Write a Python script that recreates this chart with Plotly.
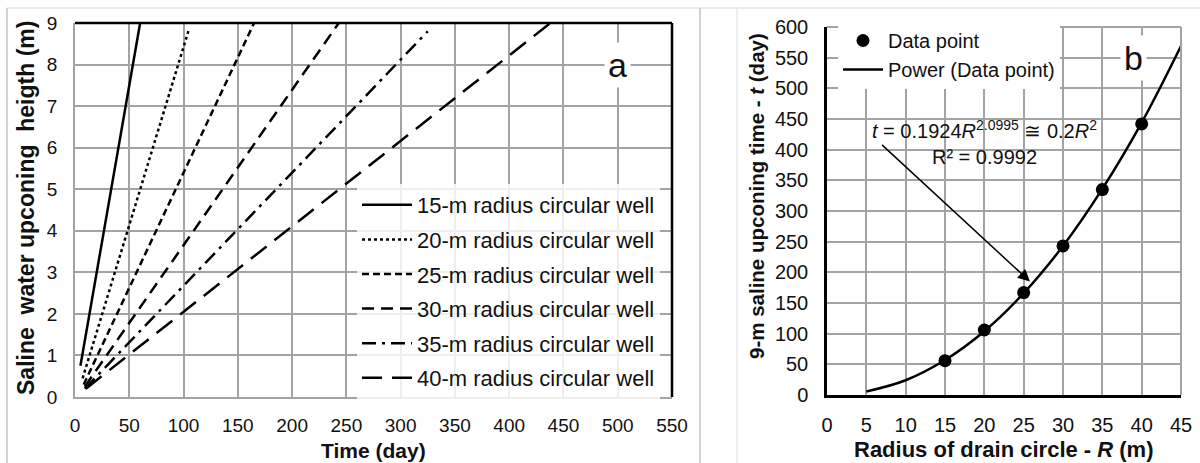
import plotly.graph_objects as go

# ---------------- data: panel a ----------------
well_labels = ["15-m radius circular well", "20-m radius circular well",
               "25-m radius circular well", "30-m radius circular well",
               "35-m radius circular well", "40-m radius circular well"]
t15 = [5, 60];  h15 = [0.75, 9.0]
t20 = [7, 105]; h20 = [0.45, 8.85]
t25 = [8, 165]; h25 = [0.30, 9.0]
t30 = [9, 243]; h30 = [0.25, 9.0]
t35 = [9, 325]; h35 = [0.20, 8.8]
t40 = [10, 438]; h40 = [0.20, 9.0]

# ---------------- data: panel b ----------------
radius_pts = [15, 20, 25, 30, 35, 40]
time_pts = [56, 106, 167, 243, 335, 442]
radius_fit = [5, 10, 15, 20, 25, 30, 35, 40, 45]
time_fit = [5.6, 24, 57, 104, 166, 243, 336, 444, 569]

x_ticks_a = list(range(0, 551, 50))
y_ticks_a = list(range(0, 10))
x_ticks_b = list(range(0, 46, 5))
y_ticks_b = list(range(0, 601, 50))

FONT = "Liberation Sans, Arial, sans-serif"
GRID = "#a3a3a3"
W, H = 1200, 463

def px(xp): return xp / W
def py(yp): return 1 - yp / H

fig = go.Figure()

series = [(t15, h15, "solid"), (t20, h20, "dot"), (t25, h25, "7px,4px"),
          (t30, h30, "12px,7px"), (t35, h35, "14px,6px,3px,6px"),
          (t40, h40, "20px,10px")]
for i, (t, h, dash) in enumerate(series):
    fig.add_trace(go.Scatter(x=t, y=h, mode="lines", name=well_labels[i],
                             line=dict(color="black", width=2.5, dash=dash),
                             xaxis="x", yaxis="y", legend="legend",
                             legendgroup=f"g{i}"))

fig.add_trace(go.Scatter(x=radius_pts, y=time_pts, mode="markers", name="Data point",
                         marker=dict(color="black", size=13),
                         xaxis="x2", yaxis="y2", legend="legend2"))
fig.add_trace(go.Scatter(x=radius_fit, y=time_fit, mode="lines", name="Power (Data point)",
                         line=dict(color="black", width=2.5, shape="spline"),
                         xaxis="x2", yaxis="y2", legend="legend2"))

xa_dom = [px(75), px(672)]
ya_dom = [py(397), py(23)]
xb_dom = [px(827), px(1181)]
yb_dom = [py(395), py(27)]

axis_common = dict(showgrid=True, gridcolor=GRID, gridwidth=1.5, zeroline=False,
                   automargin=False,
                   ticks="", tickfont=dict(family=FONT, size=19, color="#111"))

fig.update_layout(
    template="none",
    width=W, height=H, margin=dict(l=0, r=0, t=0, b=0, pad=0, autoexpand=False),
    paper_bgcolor="white", plot_bgcolor="white",
    font=dict(family=FONT, color="#111"),
    xaxis=dict(domain=xa_dom, range=[0, 550], tickvals=x_ticks_a, anchor="y",
               showline=True, linecolor=GRID, linewidth=1.5, ticklabelstandoff=10,
               **axis_common),
    yaxis=dict(domain=ya_dom, range=[0, 9], tickvals=y_ticks_a, anchor="x",
               showline=True, linecolor=GRID, linewidth=1.5, ticklabelstandoff=12,
               **axis_common),
    xaxis2=dict(domain=xb_dom, range=[0, 45], tickvals=x_ticks_b, anchor="y2",
                showline=True, linecolor="black", linewidth=2.5, ticklabelstandoff=10,
                **{**axis_common, "tickfont": dict(family=FONT, size=20, color="#111")}),
    yaxis2=dict(domain=yb_dom, range=[0, 600], tickvals=y_ticks_b, anchor="x2",
                showline=True, linecolor="black", linewidth=2.5, ticklabelstandoff=12,
                **{**axis_common, "tickfont": dict(family=FONT, size=20, color="#111")}),
    legend=dict(x=px(357), y=py(184), xanchor="left", yanchor="top",
                bgcolor="rgba(255,255,255,0.82)", borderwidth=0,
                font=dict(family=FONT, size=22, color="#111"),
                tracegroupgap=3, itemwidth=50),
    legend2=dict(x=px(838), y=py(21), xanchor="left", yanchor="top",
                 bgcolor="white", borderwidth=0,
                 font=dict(family=FONT, size=20, color="#111"), itemwidth=40),
    showlegend=True,
)

shapes = []
# black top/right border panel a
shapes.append(dict(type="line", xref="paper", yref="paper", x0=xa_dom[0], x1=xa_dom[1],
                   y0=ya_dom[1], y1=ya_dom[1], line=dict(color="black", width=2.5)))
shapes.append(dict(type="line", xref="paper", yref="paper", x0=xa_dom[1], x1=xa_dom[1],
                   y0=ya_dom[0], y1=ya_dom[1], line=dict(color="black", width=2.5)))
# gray top/right border panel b
shapes.append(dict(type="line", xref="paper", yref="paper", x0=xb_dom[0], x1=xb_dom[1],
                   y0=yb_dom[1], y1=yb_dom[1], line=dict(color=GRID, width=2)))
shapes.append(dict(type="line", xref="paper", yref="paper", x0=xb_dom[1], x1=xb_dom[1],
                   y0=yb_dom[0], y1=yb_dom[1], line=dict(color=GRID, width=2)))
# panel frames
shapes.append(dict(type="line", xref="paper", yref="paper", x0=px(7), x1=px(1200),
                   y0=py(8), y1=py(8), line=dict(color="#e4e4e4", width=1.5)))
shapes.append(dict(type="line", xref="paper", yref="paper", x0=px(7), x1=px(7),
                   y0=py(8), y1=0, line=dict(color="#c4c4c4", width=1.5)))
shapes.append(dict(type="line", xref="paper", yref="paper", x0=px(700), x1=px(700),
                   y0=py(8), y1=0, line=dict(color="#c4c4c4", width=1.5)))
shapes.append(dict(type="line", xref="paper", yref="paper", x0=px(737), x1=px(737),
                   y0=py(8), y1=0, line=dict(color="#e8e8e8", width=1.5)))
fig.update_layout(shapes=shapes)

annotations = [
    dict(text="<b>Saline\u00a0 water upconing\u00a0 heigth (m)</b>", xref="paper", yref="paper",
         x=px(26), y=py(208), xanchor="center", yanchor="middle", textangle=-90,
         showarrow=False, font=dict(family=FONT, size=23, color="#111")),
    dict(text="<b>Time (day)</b>", xref="paper", yref="paper",
         x=px(373), y=py(450), xanchor="center", yanchor="middle",
         showarrow=False, font=dict(family=FONT, size=21, color="#111")),
    dict(text="<b>9-m saline upconing time - <i>t</i> (day)</b>", xref="paper", yref="paper",
         x=px(756), y=py(196), xanchor="center", yanchor="middle", textangle=-90,
         showarrow=False, font=dict(family=FONT, size=20.5, color="#111")),
    dict(text="<b>Radius of drain circle - <i>R</i> (m)</b>", xref="paper", yref="paper",
         x=px(1004), y=py(449), xanchor="center", yanchor="middle",
         showarrow=False, font=dict(family=FONT, size=22, color="#111")),
    dict(text="a", xref="x", yref="y", x=500, y=8, showarrow=False,
         font=dict(family=FONT, size=34, color="#111"), bgcolor="white", borderpad=3),
    dict(text="b", xref="x2", yref="y2", x=39, y=550, showarrow=False,
         font=dict(family=FONT, size=34, color="#111"), bgcolor="white", borderpad=3),
    dict(text="<i>t</i> = 0.1924<i>R</i><sup>2.0995</sup> \u2245 0.2<i>R</i><sup>2</sup><br>R\u00b2 = 0.9992",
         xref="x2", yref="y2", x=20, y=412, showarrow=False,
         font=dict(family=FONT, size=20, color="#111")),
    dict(text="", xref="x2", yref="y2", x=25.8, y=185, axref="x2", ayref="y2",
         ax=6.8, ay=410, showarrow=True, arrowhead=2, arrowsize=1.6, arrowwidth=1.5,
         arrowcolor="black"),
]
fig.update_layout(annotations=annotations)

fig.write_html("out.html")
